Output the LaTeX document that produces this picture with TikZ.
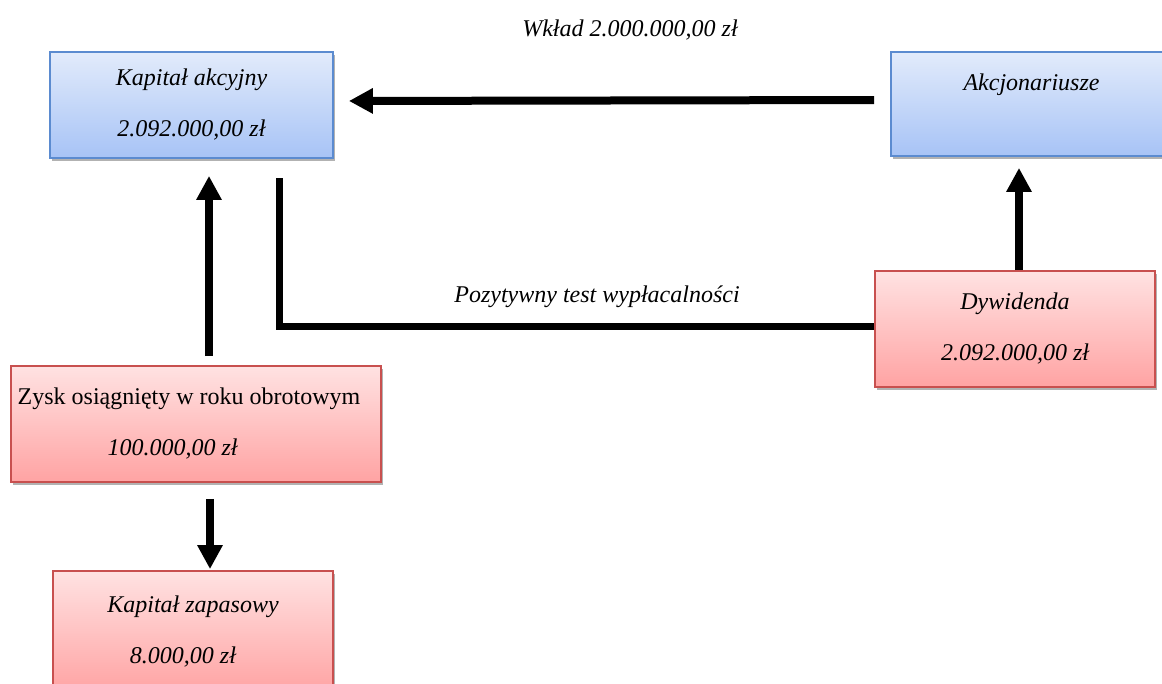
\documentclass[tikz,border=0pt]{standalone}
\usepackage{fontspec}
\setmainfont{Liberation Serif}
\usetikzlibrary{arrows.meta,calc,positioning,shadows}

\definecolor{blueTop}{HTML}{E2EBFB}
\definecolor{blueBot}{HTML}{A7C3F6}
\definecolor{blueEdge}{HTML}{5B8BD0}
\definecolor{redTop}{HTML}{FFE2E2}
\definecolor{redBot}{HTML}{FFA3A3}
\definecolor{redEdge}{HTML}{C8504F}

\begin{document}
\begin{tikzpicture}[x=0.5pt, y=0.5pt,
    every node/.style={font=\fontsize{12}{14.5}\selectfont\itshape},
    bluebox/.style={draw=blueEdge, line width=0.9pt, top color=blueTop, bottom color=blueBot,
        drop shadow={shadow xshift=1pt, shadow yshift=-1.5pt, fill=black, opacity=0.3},
        align=center, inner sep=0pt},
    redbox/.style={draw=redEdge, line width=0.9pt, top color=redTop, bottom color=redBot,
        drop shadow={shadow xshift=1pt, shadow yshift=-1.5pt, fill=black, opacity=0.3},
        align=center, inner sep=0pt},
    flow/.style={line width=4pt, -{Triangle[length=12pt,width=12pt]}},
    solv/.style={line width=3.5pt, miter limit=2}]

    % Page frame
    \useasboundingbox (0,0) rectangle (1162,-684);

    % Boxes
    \node[bluebox, minimum width=141.5pt, minimum height=53pt] (kap) at (191.5,-105)
        {Kapitał akcyjny\\[11pt]2.092.000,00 zł};
    \node[bluebox, minimum width=140.5pt, minimum height=52pt] (akc) at (1031.5,-104)
        {Akcjonariusze\\[3pt]\strut};
    \node[redbox, minimum width=140pt, minimum height=58pt] (dyw) at (1015,-329)
        {Dywidenda\\[11pt]2.092.000,00 zł};
    \node[redbox, minimum width=185pt, minimum height=58pt, align=left] (zysk) at (196,-424)
        {\upshape Zysk osiągnięty w roku obrotowym\hspace*{7pt}\\[11pt]\hspace*{45pt}100.000,00 zł};
    \node[redbox, minimum width=140pt, minimum height=61pt] (zap) at (193,-632)
        {Kapitał zapasowy\\[11pt]8.000,00 zł\hspace*{10pt}};

    % Labels
    \node (wklad) at (630,-30) {Wkład 2.000.000,00 zł};
    \node (testLabel) at (597,-297) {Pozytywny test wypłacalności};

    % Contribution of shareholders
    \draw[flow, shorten <=8pt, shorten >=7.5pt] ([yshift=2pt]akc.west) -- ([yshift=2pt]kap.east);

    % Profit of the year
    \draw[flow, shorten <=4.5pt, shorten >=8.5pt] ([xshift=6.5pt]zysk.north) -- ([xshift=6.5pt]zysk.north |- kap.south);
    \draw[flow, shorten <=8pt, shorten >=0.5pt] ([xshift=7pt]zysk.south) -- ([xshift=7pt]zysk.south |- zap.north);

    % Dividend to shareholders
    \draw[flow, shorten >=5.5pt] ([xshift=2pt]dyw.north) -- ([xshift=2pt]dyw.north |- akc.south);

    % Solvency test
    \coordinate (testTop) at ($(kap.south)+(87.5,-19)$);
    \draw[solv] ([yshift=1pt]dyw.west) -| (testTop);

\end{tikzpicture}
\end{document}
